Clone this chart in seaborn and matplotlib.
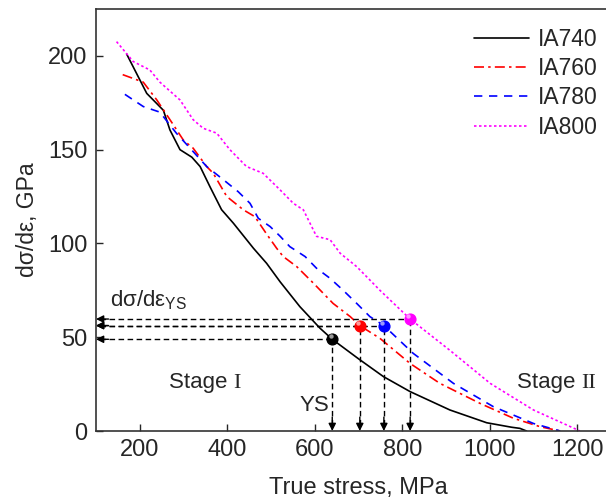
import matplotlib
matplotlib.use("Agg")
import matplotlib.pyplot as plt
import seaborn as sns
import pandas as pd

sns.set_theme(style="ticks")
plt.rcParams['font.family'] = ['Liberation Sans', 'DejaVu Sans']
plt.rcParams['mathtext.fontset'] = 'custom'
plt.rcParams['mathtext.rm'] = 'Liberation Sans'
plt.rcParams['mathtext.it'] = 'Liberation Sans'

# ---- data ----
ia740_x = [170, 216, 254, 269, 292, 319, 338, 361, 387, 414, 460, 490, 521, 566, 612, 640, 700, 757, 818, 909, 993, 1050, 1069, 1084]
ia740_y = [201, 180, 171, 160.5, 150, 146, 141, 130, 118, 110.8, 97.4, 89.4, 79.5, 66.3, 54.8, 48.9, 38.5, 29, 21, 11.2, 4.4, 2, 1.4, 0]

ia760_x = [161, 208, 239, 269, 300, 322, 353, 368, 399, 437, 463, 490, 513, 528, 559, 597, 642, 681, 703, 749, 818, 886, 978, 1054, 1115, 1161]
ia760_y = [190, 186, 176.5, 166, 155, 150.8, 141, 137.4, 125, 117.9, 114.3, 105, 97.4, 93, 87.6, 78.8, 68, 61, 56.2, 49.4, 36, 25.4, 14.7, 6.8, 2.3, 0]

ia780_x = [166, 208, 246, 284, 315, 353, 391, 425, 452, 471, 498, 521, 543, 578, 604, 635, 665, 696, 726, 758, 825, 917, 1008, 1100, 1161]
ia780_y = [179.5, 173, 170, 158.7, 150.8, 141, 134, 127.6, 121.4, 113.4, 109, 103.8, 98.3, 93, 86.8, 81.4, 75, 68, 61, 56.2, 41.4, 25.4, 13, 4, 0]

ia800_x = [147, 185, 223, 246, 292, 322, 345, 376, 406, 444, 482, 521, 551, 574, 604, 635, 658, 696, 726, 749, 818, 909, 1001, 1100, 1176, 1206]
ia800_y = [207.6, 197, 192.5, 186, 176.5, 166, 161.4, 158.8, 150, 141, 137.4, 128.5, 121.4, 117.9, 103.8, 102, 94.8, 87.6, 80.5, 75, 59.7, 43, 25.4, 11.2, 3.2, 0]

labels = ['IA740', 'IA760', 'IA780', 'IA800']
colors = ['black', 'red', 'blue', 'magenta']
styles = ['-', (0, (6, 2.5, 1.5, 2.5)), (0, (5, 4)), (0, (1.5, 1.5))]

ys_x = [640, 703, 758, 818]
ys_y = [48.9, 56.2, 56.2, 59.7]

xticks = [200, 400, 600, 800, 1000, 1200]
yticks = [0, 50, 100, 150, 200]

# ---- figure ----
fig = plt.figure(figsize=(6.06, 5.04), dpi=100)
ax = fig.add_axes([96/606, 73/504, 525/606, 422/504])

series = [(ia740_x, ia740_y), (ia760_x, ia760_y), (ia780_x, ia780_y), (ia800_x, ia800_y)]
for (xs, ys), lab, c, ls in zip(series, labels, colors, styles):
    df = pd.DataFrame({'stress': xs, 'slope': ys})
    sns.lineplot(data=df, x='stress', y='slope', ax=ax, color=c, linestyle=ls,
                 lw=1.2, label=lab, sort=False, estimator=None)

x0 = 100
for xp, yp in zip(ys_x, ys_y):
    ax.plot([x0 + 8, xp], [yp, yp], color='black', ls=(0, (4, 2.5)), lw=1.0, zorder=3)
    ax.plot([xp, xp], [3, yp], color='black', ls=(0, (4, 2.5)), lw=1.0, zorder=3)
    ax.annotate('', xy=(x0, yp), xytext=(9, 0), textcoords='offset points',
                arrowprops=dict(arrowstyle='-|>', color='black', lw=1.0,
                                mutation_scale=11, shrinkA=0, shrinkB=0), zorder=4)
    ax.annotate('', xy=(xp, 0), xytext=(0, 10), textcoords='offset points',
                arrowprops=dict(arrowstyle='-|>', color='black', lw=1.0,
                                mutation_scale=11, shrinkA=0, shrinkB=0), zorder=4)

for xp, yp, c in zip(ys_x, ys_y, colors):
    ax.scatter([xp], [yp], s=60, color=c, edgecolor=c, zorder=5)
    ax.scatter([xp - 4], [yp + 1.5], s=10, color='white', alpha=0.6, lw=0, zorder=6)

ax.set_xlim(100, 1300)
ax.set_ylim(0, 225)
ax.set_xticks(xticks)
ax.set_yticks(yticks)
ax.tick_params(direction='in', length=5, width=1, labelsize=17, pad=6)
for s in ax.spines.values():
    s.set_linewidth(1.2)
    s.set_color('#333333')

ax.set_xlabel('True stress, MPa', fontsize=17, labelpad=11)
ax.set_ylabel('dσ/dε, GPa', fontsize=16.5, labelpad=7)

fs = 16
ax.text(132, 66.7, r'dσ/dε$_{\mathrm{YS}}$', fontsize=fs)
ax.text(566, 10.8, 'YS', fontsize=fs)
t1 = ax.text(266, 22.9, 'Stage ', fontsize=fs)
ax.annotate('I', xy=(1, 0), xycoords=t1, fontsize=fs, family='Liberation Serif',
            va='bottom', ha='left')
t2 = ax.text(1062, 23, 'Stage ', fontsize=fs)
ax.annotate('II', xy=(1, 0), xycoords=t2, fontsize=fs, family='Liberation Serif',
            va='bottom', ha='left')

ax.legend(loc='upper left', bbox_to_anchor=(474/606, 1 - 28/504), bbox_transform=fig.transFigure,
          frameon=False, fontsize=16.5, handlelength=2.4, handletextpad=0.4,
          labelspacing=0.27, borderpad=0, borderaxespad=0)

fig.savefig('out.png', dpi=100)
